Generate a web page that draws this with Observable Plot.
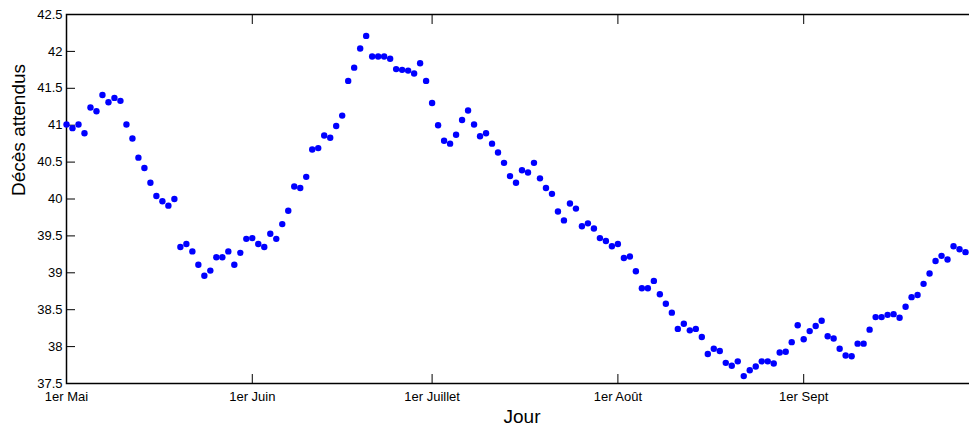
<!DOCTYPE html>
<html>
<head>
<meta charset="utf-8">
<script src="https://cdn.jsdelivr.net/npm/d3@7"></script>
<script src="https://cdn.jsdelivr.net/npm/@observablehq/plot@0.6"></script>
<style>
  html, body { margin: 0; padding: 0; background: #fff; overflow: hidden; }
  #chart { width: 969px; height: 430px; overflow: hidden; }
</style>
</head>
<body>
<div id="chart"></div>
<script>
// Daily expected deaths, 1 May -> 28 Sep
const startDate = "2013-05-01";
const endDate = "2013-09-28";
const values = [
  41.01, 40.96, 41.01, 40.89, 41.24, 41.19, 41.41, 41.31, 41.37, 41.33,
  41.01, 40.82, 40.56, 40.42, 40.22, 40.04, 39.97, 39.91, 40.00, 39.35,
  39.39, 39.29, 39.11, 38.96, 39.03, 39.21, 39.21, 39.29, 39.11, 39.27,
  39.46, 39.47, 39.39, 39.35, 39.53, 39.46, 39.66, 39.84, 40.17, 40.15,
  40.30, 40.67, 40.69, 40.86, 40.83, 40.99, 41.13, 41.60, 41.78, 42.04,
  42.21, 41.93, 41.93, 41.93, 41.90, 41.76, 41.75, 41.74, 41.70, 41.84,
  41.60, 41.30, 41.00, 40.79, 40.75, 40.87, 41.07, 41.20, 41.01, 40.85,
  40.89, 40.75, 40.63, 40.49, 40.31, 40.22, 40.39, 40.36, 40.49, 40.28,
  40.15, 40.07, 39.83, 39.71, 39.94, 39.87, 39.63, 39.67, 39.60, 39.47,
  39.43, 39.36, 39.39, 39.20, 39.22, 39.02, 38.79, 38.79, 38.89, 38.71,
  38.58, 38.46, 38.24, 38.31, 38.22, 38.24, 38.13, 37.90, 37.97, 37.94,
  37.78, 37.74, 37.80, 37.60, 37.68, 37.73, 37.80, 37.80, 37.77, 37.92,
  37.93, 38.06, 38.29, 38.10, 38.21, 38.28, 38.35, 38.14, 38.11, 37.97,
  37.88, 37.87, 38.04, 38.04, 38.23, 38.40, 38.40, 38.43, 38.44, 38.39,
  38.54, 38.67, 38.70, 38.85, 38.99, 39.16, 39.23, 39.18, 39.36, 39.32,
  39.28
];
const xDomain = ["2013-05-01", "2013-09-30"];
const xTickDates = ["2013-05-01", "2013-06-01", "2013-07-01", "2013-08-01", "2013-09-01"];
const xTickLabels = ["1er Mai", "1er Juin", "1er Juillet", "1er Août", "1er Sept"];
const yDomain = [37.5, 42.5];
const yTicks = [37.5, 38, 38.5, 39, 39.5, 40, 40.5, 41, 41.5, 42, 42.5];
const xLabel = "Jour";
const yLabel = "Décès attendus";

const days = d3.utcDay.range(new Date(startDate), d3.utcDay.offset(new Date(endDate), 1));
const data = values.map((v, i) => ({date: days[i], value: v}));
const tickDates = xTickDates.map(d => new Date(d));
const labelMap = new Map(tickDates.map((d, i) => [+d, xTickLabels[i]]));

const chart = Plot.plot({
  width: 978,
  height: 430,
  marginLeft: 66,
  marginRight: 1,
  marginTop: 14,
  marginBottom: 47,
  style: {fontFamily: "'Liberation Sans', Arial, sans-serif", fontSize: "13px", color: "#000", background: "#fff", maxWidth: "none"},
  x: {type: "utc", domain: xDomain.map(d => new Date(d))},
  y: {domain: yDomain},
  marks: [
    Plot.frame({stroke: "#000", strokeWidth: 1.5}),
    Plot.axisY(yTicks, {anchor: "left", tickSize: -9, tickPadding: 13, tickFormat: d => String(d), label: null}),
    Plot.axisY(yTicks, {anchor: "right", tickSize: -9, tickFormat: () => "", label: null}),
    Plot.axisX(tickDates, {anchor: "bottom", tickSize: -9, tickPadding: 17, tickFormat: d => labelMap.get(+d), label: null}),
    Plot.axisX(tickDates, {anchor: "top", tickSize: -9, tickFormat: () => "", label: null}),
    Plot.dot(data, {x: "date", y: "value", r: 3.2, fill: "#0000ff", stroke: null}),
    Plot.text([xLabel], {text: d => d, frameAnchor: "bottom", dy: 39, fontSize: 19}),
    Plot.text([yLabel], {text: d => d, frameAnchor: "left", rotate: -90, dx: -48, dy: -3, fontSize: 19})
  ]
});
document.getElementById("chart").appendChild(chart);
</script>
</body>
</html>
